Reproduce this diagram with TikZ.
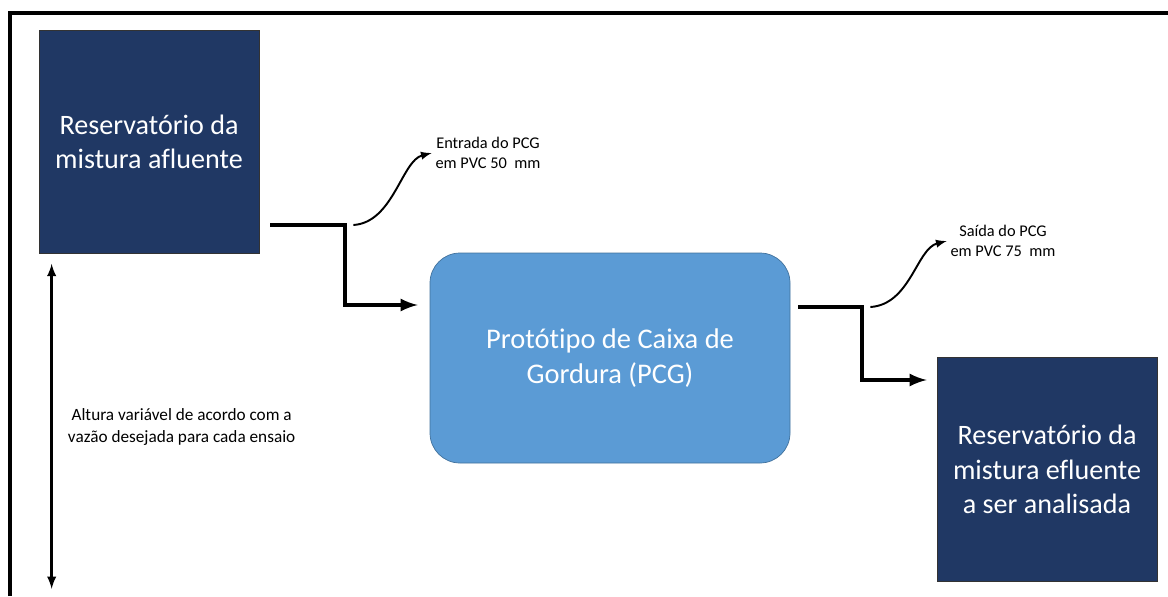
\documentclass[tikz,border=0pt]{standalone}
\usepackage{fontspec}
\setmainfont{Carlito}[Ligatures=NoCommon]
\usetikzlibrary{arrows,positioning}
\definecolor{navy}{HTML}{203864}
\definecolor{pcgblue}{HTML}{5B9BD5}
\definecolor{pcgline}{HTML}{41719C}

\begin{document}
\begin{tikzpicture}[>=latex,
  tank/.style={draw=black!80, rectangle, fill=navy, text=white, minimum width=4.4cm, minimum height=4.46cm, align=center, font=\fontsize{16}{19.5}\selectfont},
  pipe/.style={line width=0.08cm, ->},
  tag/.style={align=center, inner sep=2pt, font=\fontsize{9.3}{11.4}\selectfont},
  wiggle/.style={line width=1.1pt, ->}]
\useasboundingbox (0,0) rectangle (23.36,-11.92);
\draw [line width=0.08cm](0.2,-11.92) |- (23.36,-0.26);

\node (leftres)[tank] at (2.98,-2.84) {Reservatório da\\mistura afluente};
\node (pcg)[draw=pcgline, rectangle, rounded corners=0.6cm, fill=pcgblue, text=white, minimum width=7.2cm, minimum height=4.2cm, align=center, font=\fontsize{16.2}{19.5}\selectfont, node distance=9.22cm, right of=leftres, yshift=-4.32cm] {Protótipo de Caixa de\\Gordura (PCG)};
\node (rightres)[tank, minimum height=4.48cm, node distance=8.74cm, right of=pcg, yshift=-2.23cm] {Reservatório da\\mistura efluente\\a ser analisada};
\node (inlabel)[tag, node distance=6.78cm, right of=leftres, yshift=-0.22cm] {Entrada do PCG\\em PVC 50~ mm};
\node (outlabel)[tag, node distance=7.86cm, right of=pcg, yshift=2.34cm] {Saída do PCG\\em PVC 75~ mm};

\coordinate (pipeAstart) at ([xshift=0.22cm,yshift=-1.66cm]leftres.east);
\coordinate (pipeAbend) at ([xshift=1.72cm,yshift=-1.66cm]leftres.east);
\coordinate (pipeAend) at ([xshift=-0.24cm,yshift=1.06cm]pcg.west);
\draw [pipe](pipeAstart) -- (pipeAbend) |- (pipeAend);
\draw [wiggle]([xshift=0.16cm]pipeAbend) .. controls +(0.8,0.05) and +(-0.6,-0.15) .. (inlabel.west);

\coordinate (pipeBstart) at ([xshift=0.16cm,yshift=1.02cm]pcg.east);
\coordinate (pipeBbend) at ([xshift=1.44cm,yshift=1.02cm]pcg.east);
\coordinate (pipeBend) at ([xshift=-0.2cm,yshift=1.79cm]rightres.west);
\draw [pipe](pipeBstart) -- (pipeBbend) |- (pipeBend);
\draw [wiggle]([xshift=0.16cm]pipeBbend) .. controls +(0.8,0.05) and +(-0.6,-0.15) .. (outlabel.west);

\coordinate (heighttop) at ([xshift=0.26cm,yshift=-0.2cm]leftres.south west);
\coordinate (heightbot) at ([yshift=-6.5cm]heighttop);
\draw [<->, line width=1.4pt](heighttop) -- (heightbot);
\node (heightlabel)[align=center, font=\fontsize{9.8}{12.5}\selectfont] at ([xshift=2.6cm,yshift=-3.26cm]heighttop) {Altura variável de acordo com a\\vazão desejada para cada ensaio};
\end{tikzpicture}
\end{document}
